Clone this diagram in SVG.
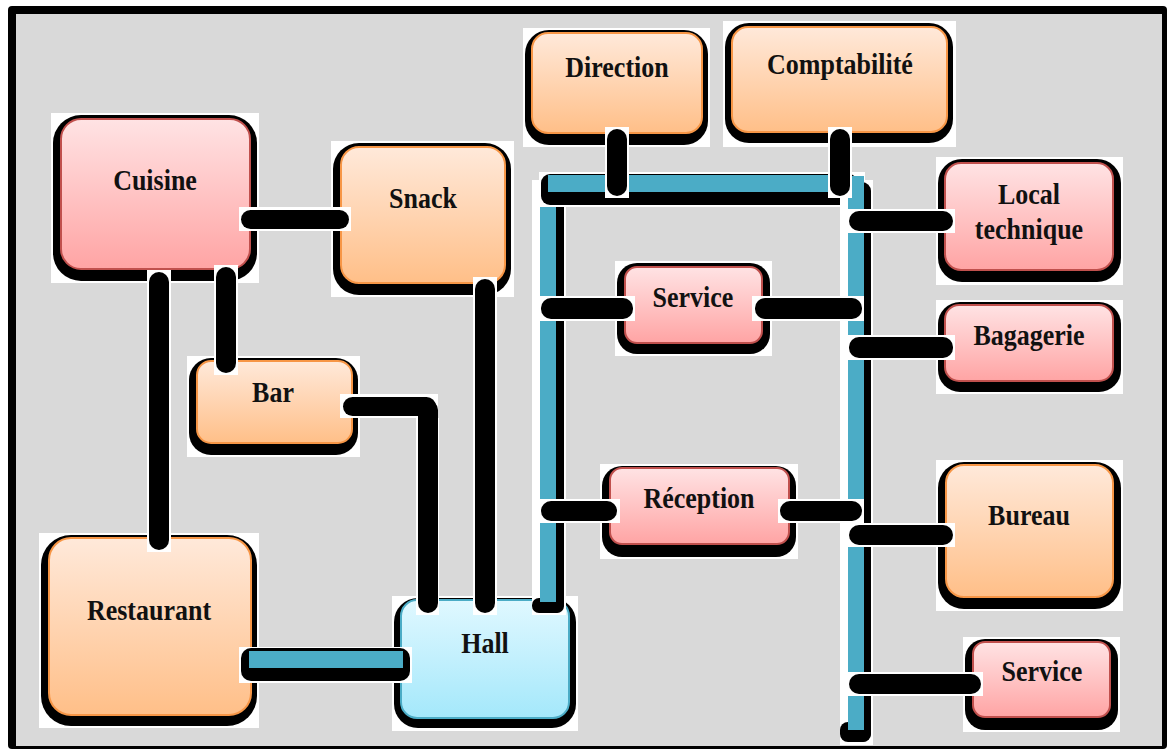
<svg xmlns="http://www.w3.org/2000/svg" width="1167" height="749" viewBox="0 0 1167 749">
<defs>
<linearGradient id="gOr" x1="0" y1="0" x2="0" y2="1"><stop offset="0" stop-color="#ffe9da"/><stop offset="1" stop-color="#ffbf88"/></linearGradient>
<linearGradient id="gPk" x1="0" y1="0" x2="0" y2="1"><stop offset="0" stop-color="#ffe3e4"/><stop offset="1" stop-color="#ffa4a4"/></linearGradient>
<linearGradient id="gBl" x1="0" y1="0" x2="0" y2="1"><stop offset="0" stop-color="#e0f8ff"/><stop offset="1" stop-color="#a4e8fb"/></linearGradient>
</defs>
<style>
.wb{fill:#ffffff}
.sh{fill:#000000}
.or{fill:url(#gOr);stroke:#f79646;stroke-width:2}
.pk{fill:url(#gPk);stroke:#c0504d;stroke-width:2}
.bl{fill:url(#gBl);stroke:#4bacc6;stroke-width:2}
.bus{fill:#4bacc6}
.t{font-family:"Liberation Serif","Times New Roman",serif;font-weight:bold;font-size:26px;fill:#111111;text-anchor:middle}
</style>
<rect x="8" y="6" width="1159" height="743" rx="4" fill="#000000"/>
<rect x="16" y="14" width="1146" height="732" fill="#d9d9d9"/>

<g id="cuisine">
<rect class="wb" x="51" y="113" width="208" height="170"/>
<rect class="sh" x="53" y="115" width="204" height="166" rx="28"/>
<rect class="pk" x="61" y="119" width="189" height="150" rx="20"/>
<text class="t" transform="translate(155 190) scale(1 1.15)">Cuisine</text>
</g>
<g id="snack">
<rect class="wb" x="331" y="141" width="183" height="156"/>
<rect class="sh" x="333" y="143" width="178" height="152" rx="26"/>
<rect class="or" x="341" y="147" width="164" height="136" rx="18"/>
<text class="t" transform="translate(423 208) scale(1 1.15)">Snack</text>
</g>
<g id="bar">
<rect class="wb" x="187" y="356" width="173" height="101"/>
<rect class="sh" x="189" y="358" width="169" height="97" rx="22"/>
<rect class="or" x="197" y="361" width="155" height="82" rx="14"/>
<text class="t" transform="translate(273 402) scale(1 1.15)">Bar</text>
</g>
<g id="restaurant">
<rect class="wb" x="39" y="533" width="220" height="195"/>
<rect class="sh" x="41" y="535" width="216" height="191" rx="30"/>
<rect class="or" x="49" y="538" width="202" height="177" rx="22"/>
<text class="t" transform="translate(149 620) scale(1 1.15)">Restaurant</text>
</g>
<g id="hall">
<rect class="wb" x="392" y="596" width="186" height="135"/>
<rect class="sh" x="394" y="598" width="182" height="130" rx="24"/>
<rect class="bl" x="401" y="600" width="168" height="118" rx="16"/>
<text class="t" transform="translate(485 653) scale(1 1.15)">Hall</text>
</g>
<g id="direction">
<rect class="wb" x="523" y="28" width="187" height="119"/>
<rect class="sh" x="525" y="30" width="183" height="115" rx="24"/>
<rect class="or" x="532" y="33" width="170" height="100" rx="16"/>
<text class="t" transform="translate(617 77) scale(1 1.15)">Direction</text>
</g>
<g id="comptabilite">
<rect class="wb" x="723" y="21" width="233" height="126"/>
<rect class="sh" x="725" y="23" width="228" height="120" rx="24"/>
<rect class="or" x="732" y="27" width="215" height="105" rx="16"/>
<text class="t" transform="translate(840 74) scale(1 1.15)">Comptabilité</text>
</g>
<g id="service1">
<rect class="wb" x="615" y="261" width="157" height="95"/>
<rect class="sh" x="617" y="263" width="153" height="91" rx="20"/>
<rect class="pk" x="625" y="267" width="137" height="76" rx="12"/>
<text class="t" transform="translate(693 307) scale(1 1.15)">Service</text>
</g>
<g id="reception">
<rect class="wb" x="600" y="464" width="198" height="95"/>
<rect class="sh" x="602" y="466" width="194" height="91" rx="20"/>
<rect class="pk" x="610" y="468" width="179" height="76" rx="12"/>
<text class="t" transform="translate(699 508) scale(1 1.15)">Réception</text>
</g>
<g id="localtechnique">
<rect class="wb" x="936" y="157" width="187" height="128"/>
<rect class="sh" x="938" y="159" width="183" height="123" rx="24"/>
<rect class="pk" x="945" y="163" width="168" height="107" rx="16"/>
<text class="t" transform="translate(1029 204) scale(1 1.15)">Local</text>
<text class="t" transform="translate(1029 239) scale(1 1.15)">technique</text>
</g>
<g id="bagagerie">
<rect class="wb" x="936" y="300" width="187" height="94"/>
<rect class="sh" x="938" y="302" width="183" height="90" rx="22"/>
<rect class="pk" x="945" y="305" width="168" height="76" rx="14"/>
<text class="t" transform="translate(1029 345) scale(1 1.15)">Bagagerie</text>
</g>
<g id="bureau">
<rect class="wb" x="936" y="460" width="187" height="151"/>
<rect class="sh" x="938" y="462" width="183" height="147" rx="26"/>
<rect class="or" x="946" y="465" width="167" height="132" rx="18"/>
<text class="t" transform="translate(1029 525) scale(1 1.15)">Bureau</text>
</g>
<g id="service2">
<rect class="wb" x="963" y="637" width="157" height="95"/>
<rect class="sh" x="965" y="639" width="153" height="91" rx="20"/>
<rect class="pk" x="973" y="642" width="137" height="75" rx="12"/>
<text class="t" transform="translate(1042 681) scale(1 1.15)">Service</text>
</g>

<g id="connectors">
<rect class="wb" x="532" y="180" width="34" height="435"/>
<rect class="sh" x="540" y="182" width="24" height="431" rx="9"/>
<rect class="sh" x="532" y="598" width="32" height="15" rx="7"/>
<rect class="bus" x="540" y="180" width="16" height="422"/>
<rect class="wb" x="539" y="172" width="326" height="35"/>
<rect class="sh" x="541" y="174" width="317" height="31" rx="9"/>
<rect class="bus" x="548" y="175" width="302" height="17"/>
<rect class="wb" x="840" y="180" width="33" height="565"/>
<rect class="sh" x="848" y="182" width="23" height="560" rx="9"/>
<rect class="sh" x="840" y="722" width="31" height="20" rx="8"/>
<rect class="bus" x="848" y="176" width="16" height="554"/>
<rect class="wb" x="239" y="647" width="173" height="36"/>
<rect class="sh" x="241" y="648" width="169" height="33" rx="10"/>
<rect class="bus" x="249" y="651" width="154" height="17"/>
<rect class="wb" x="239" y="207" width="112" height="24"/>
<rect class="sh" x="241" y="210" width="108" height="19" rx="9.5"/>
<rect class="wb" x="214" y="265" width="24" height="110"/>
<rect class="sh" x="216" y="267" width="20" height="106" rx="10"/>
<rect class="wb" x="147" y="270" width="24" height="282"/>
<rect class="sh" x="149" y="272" width="20" height="278" rx="10"/>
<rect class="wb" x="340" y="394" width="98" height="24"/>
<rect class="sh" x="343" y="397" width="93" height="19" rx="9.5"/>
<rect class="wb" x="416" y="418" width="23" height="197"/>
<rect class="sh" x="418" y="400" width="20" height="213" rx="10"/>
<rect class="wb" x="473" y="277" width="24" height="338"/>
<rect class="sh" x="475" y="279" width="20" height="334" rx="10"/>
<rect class="wb" x="605" y="127" width="24" height="71"/>
<rect class="sh" x="607" y="129" width="20" height="67" rx="10"/>
<rect class="wb" x="828" y="127" width="24" height="71"/>
<rect class="sh" x="830" y="129" width="20" height="67" rx="10"/>
<rect class="wb" x="539" y="296" width="96" height="25"/>
<rect class="sh" x="541" y="298" width="92" height="21" rx="10"/>
<rect class="wb" x="752" y="296" width="112" height="25"/>
<rect class="sh" x="755" y="298" width="107" height="21" rx="10"/>
<rect class="wb" x="539" y="499" width="81" height="24"/>
<rect class="sh" x="541" y="501" width="76" height="20" rx="10"/>
<rect class="wb" x="778" y="499" width="86" height="24"/>
<rect class="sh" x="780" y="501" width="82" height="20" rx="10"/>
<rect class="wb" x="847" y="209" width="108" height="24"/>
<rect class="sh" x="849" y="211" width="104" height="20" rx="10"/>
<rect class="wb" x="847" y="335" width="108" height="25"/>
<rect class="sh" x="849" y="337" width="104" height="21" rx="10"/>
<rect class="wb" x="847" y="523" width="108" height="24"/>
<rect class="sh" x="849" y="525" width="104" height="20" rx="10"/>
<rect class="wb" x="847" y="672" width="136" height="24"/>
<rect class="sh" x="849" y="674" width="132" height="20" rx="10"/>
</g>
</svg>
